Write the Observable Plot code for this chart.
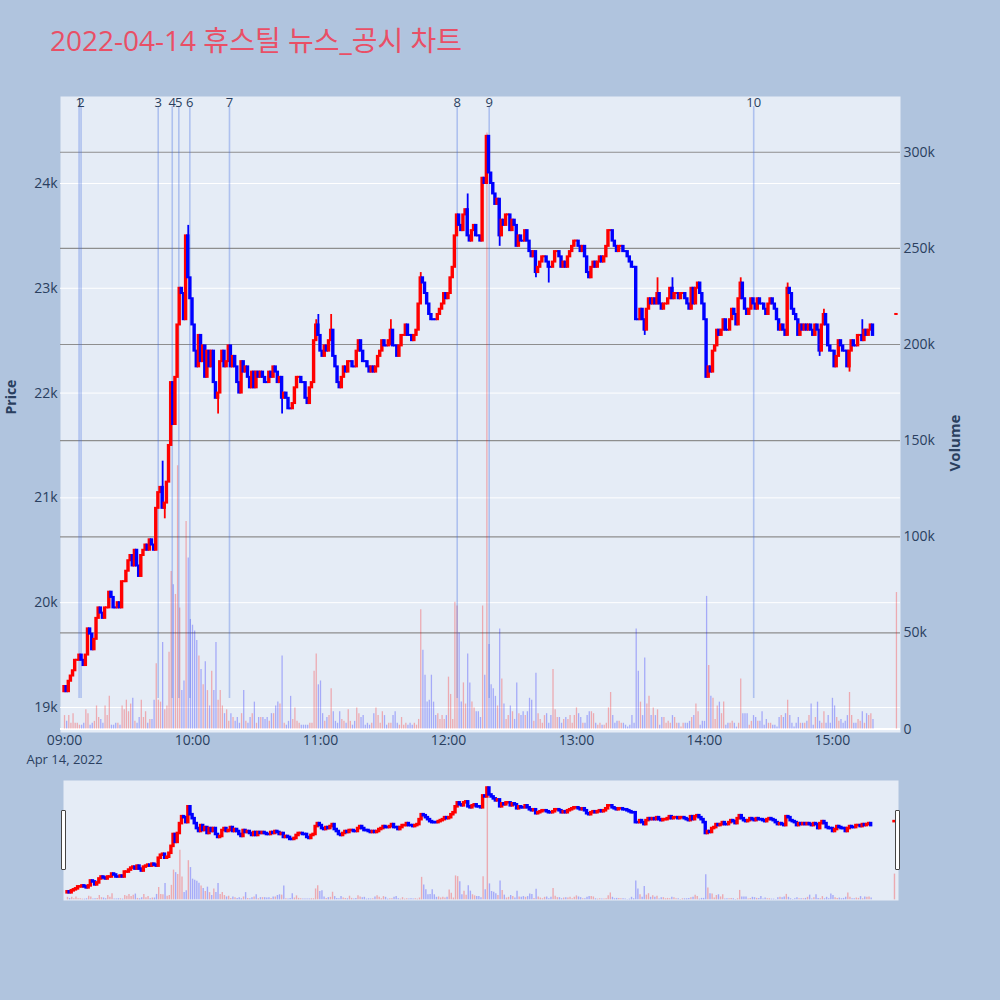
<!DOCTYPE html>
<html><head><meta charset="utf-8">
<script src="https://cdn.jsdelivr.net/npm/d3@7"></script>
<script src="https://cdn.jsdelivr.net/npm/@observablehq/plot@0.6"></script>
<style>
html,body{margin:0;padding:0;background:#B0C4DE;}
#chart{position:relative;width:1000px;height:1000px;background:#B0C4DE;font-family:"Open Sans","Noto Sans CJK KR",sans-serif;overflow:hidden;}
#title{position:absolute;left:50px;top:26px;font-size:28px;line-height:28px;color:#E94F66;white-space:nowrap;font-family:"Open Sans","Noto Sans CJK KR",sans-serif;}
.handle{position:absolute;width:3px;height:58px;background:#fff;border:1px solid #444;border-radius:1px;top:810px;}
</style></head>
<body>
<div id="chart"><div id="title">2022-04-14 휴스틸 뉴스_공시 차트</div></div>
<script>
// ---------------- data ----------------
const sessionDate = "2022-04-14";
const sessionStart = "09:00";
const dateLabel = "Apr 14, 2022";
const firstOpen = 19150;
// 1-minute closes from 09:00 to 15:19 (open = previous minute's close)
const closes = [
19200,19150,19250,19300,19350,19450,19450,19500,19450,19400,
19500,19750,19700,19550,19650,19850,19950,19900,19850,19950,
19950,20100,20050,19950,19950,20000,19950,20200,20200,20300,
20400,20450,20350,20500,20350,20250,20450,20500,20550,20500,
20600,20550,20500,20900,21050,21100,20900,20950,21150,21500,
22100,21700,22150,22650,23000,22950,22700,23500,23100,22900,
22650,22400,22250,22550,22300,22450,22150,22400,22250,22400,
22100,21950,22000,22300,22400,22250,22300,22450,22250,22350,
22250,22100,22000,22300,22200,22250,22150,22050,22200,22050,
22200,22150,22200,22150,22100,22100,22200,22150,22250,22200,
22100,22150,21950,22000,21950,21850,21850,21900,22050,22150,
22150,22100,22100,21950,21900,22050,22100,22500,22650,22550,
22400,22350,22450,22400,22500,22600,22350,22250,22100,22050,
22150,22250,22200,22300,22300,22250,22250,22400,22500,22400,
22300,22300,22250,22200,22250,22200,22250,22350,22400,22500,
22450,22450,22500,22600,22450,22450,22350,22450,22550,22550,
22650,22550,22550,22500,22550,22600,22850,23100,23050,22950,
22850,22750,22700,22700,22700,22750,22800,22850,22950,22900,
22950,23100,23200,23500,23700,23600,23550,23700,23750,23500,
23450,23550,23600,23500,23500,23450,24050,24000,24450,24100,
24000,23900,23800,23850,23500,23650,23600,23700,23700,23550,
23650,23600,23400,23500,23450,23450,23550,23450,23350,23300,
23350,23150,23200,23250,23300,23300,23250,23200,23200,23250,
23350,23350,23300,23200,23250,23200,23300,23350,23400,23450,
23450,23400,23350,23400,23300,23150,23100,23200,23250,23200,
23250,23300,23250,23300,23400,23550,23550,23450,23400,23350,
23400,23400,23350,23350,23300,23250,23200,23200,22700,22700,
22800,22700,22600,22800,22900,22850,22900,22850,22950,22850,
22800,22850,22850,22900,23000,22900,22950,22950,22900,22950,
22950,22900,22850,22800,23000,22850,23000,23050,22950,22850,
22700,22150,22250,22200,22400,22450,22600,22550,22600,22700,
22600,22600,22700,22800,22750,22650,22900,23050,22900,22800,
22750,22800,22900,22850,22800,22900,22850,22850,22800,22750,
22850,22900,22850,22800,22700,22600,22650,22600,22550,23000,
22950,22800,22750,22700,22550,22650,22600,22650,22600,22650,
22600,22550,22650,22600,22400,22650,22750,22650,22450,22400,
22400,22250,22350,22500,22450,22400,22400,22250,22400,22500,
22450,22450,22550,22550,22500,22600,22550,22600,22650,22550
];
// 1-minute volumes, thousands of shares
const volumesK = [
7,4,7,3,8,3,3,2,2,3,
10,8,2,3,4,12,6,5,3,12,
7,17,2,2,3,3,2,12,10,15,
9,13,16,4,3,6,15,6,9,3,
5,5,15,34,15,14,45,10,12,40,
82,75,70,137,63,20,25,108,89,57,
54,51,46,38,31,23,35,20,12,30,
20,45,15,20,12,8,10,4,8,6,
4,6,3,8,20,4,3,6,8,14,
3,6,6,6,5,6,4,8,8,12,
14,13,38,3,2,4,17,5,11,4,
3,2,2,2,2,3,3,30,39,23,
25,8,4,6,7,21,9,4,3,9,
5,4,3,10,4,2,4,11,8,6,
7,2,3,2,3,8,11,7,3,9,
7,2,3,3,7,9,3,2,6,2,
3,2,3,2,3,2,5,62,41,28,
14,15,28,14,7,8,5,7,5,7,
27,18,5,66,64,50,14,24,13,39,
24,14,11,9,9,6,64,28,310,44,
23,21,17,12,52,26,13,5,7,12,
9,5,24,8,7,9,7,9,16,15,
4,29,8,5,3,7,8,3,7,31,
10,6,6,3,5,6,5,7,3,7,
11,8,6,3,3,7,9,9,8,3,
2,3,2,2,3,11,19,7,3,4,
4,3,3,2,1,2,7,3,52,30,
14,7,37,13,17,7,11,7,10,2,
6,6,3,4,3,7,6,3,3,1,
3,3,3,4,6,7,13,9,2,4,
4,69,33,17,16,5,12,14,8,14,
2,3,3,4,3,1,3,26,8,8,
8,2,4,7,6,4,4,9,2,5,
3,3,2,2,1,6,7,6,8,15,
7,3,1,3,6,3,3,3,4,7,
13,2,6,14,4,3,9,3,7,3,
16,12,6,4,5,3,4,7,19,7,
3,3,5,4,9,3,8,7,8,5
];
// closing auction print
const auctionTime = "15:30";
const auctionOpen = 22750;
const auctionClose = 22750;
const auctionVolumeK = 71;
// notable wicks: [minute index, low, high]
const wicks = [
[46,20900,21350],[47,20800,20950],[58,23100,23600],[72,21800,22000],[102,21800,22150],
[118,22500,22700],[119,22550,22750],[125,22500,22750],[153,22450,22700],[167,22850,23150],
[189,23500,23900],[204,23400,23850],[221,23100,23350],[227,23050,23250],[272,22550,22700],
[278,22850,23100],[285,22900,23100],[317,22900,23100],[339,22550,23050],[354,22350,22600],
[356,22650,22800],[368,22200,22400],[374,22500,22700]
];
// news / disclosure markers
const newsLabels = ["1","2","3","4","5","6","7","8","9","10"];
const newsTimes = ["09:06:50","09:07:45","09:43:55","09:50:30","09:53:35","09:58:45","10:17:20","12:04:05","12:19:05","14:23:05"];
// axes
const hourTicks = ["09:00","10:00","11:00","12:00","13:00","14:00","15:00"];
const priceTicks = [19000,20000,21000,22000,23000,24000];
const volumeTicks = [0,50000,100000,150000,200000,250000,300000];
const xRange = ["08:58:07","15:31:54"];
const priceRange = [18761, 24830];
const volumeRange = [-1800, 329000];

// ---------------- build ----------------
const T = s => new Date(`${sessionDate}T${s.length === 5 ? s + ":00" : s}Z`);
const start = T(sessionStart);
const xDomain = xRange.map(T);
const UP = "#ff0000", DOWN = "#0000ff";
const n = Math.min(closes.length, volumesK.length);
const candles = [];
let lastUp = true;
for (let i = 0; i < n; i++) {
  const c = closes[i];
  const o = i === 0 ? firstOpen : closes[i - 1];
  const prev = i === 0 ? null : closes[i - 1];
  const up = c > o ? true : c < o ? false : (prev !== null && c !== prev ? c > prev : lastUp);
  lastUp = up;
  candles.push({time: d3.utcMinute.offset(start, i), open: o, close: c, volume: volumesK[i] * 1000, color: up ? UP : DOWN});
}
{
  const prev = closes[n - 1];
  const o = auctionOpen, c = auctionClose;
  const up = c > o ? true : c < o ? false : (c !== prev ? c > prev : lastUp);
  candles.push({time: T(auctionTime), open: o, close: c, volume: auctionVolumeK * 1000, color: up ? UP : DOWN});
}
const wickRows = wicks.map(([m, lo, hi]) => ({time: candles[m].time, low: lo, high: hi, color: candles[m].color}));
const news = newsTimes.map((t, i) => ({time: T(t), label: newsLabels[i]}));
const halfBody = 48e3;

const chart = document.getElementById("chart");
const baseStyle = {background: "transparent", fontFamily: "'Open Sans', 'Noto Sans CJK KR', sans-serif", fontSize: "14px", color: "#2a3f5f", overflow: "visible"};
function place(svg, top) {
  svg.style.position = "absolute";
  svg.style.left = "0px";
  svg.style.top = top + "px";
  svg.style.maxWidth = "none";
  svg.style.background = "transparent";
  chart.appendChild(svg);
}
const mainDims = {width: 1000, height: 760, marginTop: 96, marginBottom: 28, marginLeft: 60, marginRight: 100, style: baseStyle};
const xHidden = {type: "utc", domain: xDomain, axis: null};

// layer 1: background, price grid, axes
place(Plot.plot({
  ...mainDims,
  x: {type: "utc", domain: xDomain, ticks: hourTicks.map(T), tickFormat: d3.utcFormat("%H:%M"), tickSize: 0, tickPadding: 3, label: null},
  y: {domain: priceRange, ticks: priceTicks, tickFormat: d => d / 1000 + "k", tickSize: 0, tickPadding: 3, label: null},
  marks: [
    Plot.frame({fill: "#E5ECF6", stroke: "none"}),
    Plot.ruleY(priceTicks, {stroke: "#ffffff", strokeWidth: 1}),
    Plot.text([start], {x: d => d, text: () => dateLabel, frameAnchor: "bottom", dy: 31, fontSize: 13}),
    Plot.text(["Price"], {text: d => d, frameAnchor: "left", dx: -49, rotate: -90, fontWeight: "bold", fontSize: 14})
  ]
}), 0);

// layer 2: volume grid, bars, right axis
place(Plot.plot({
  ...mainDims,
  x: xHidden,
  y: {domain: volumeRange, axis: "right", ticks: volumeTicks, tickFormat: d => d === 0 ? "0" : d / 1000 + "k", tickSize: 0, tickPadding: 3, label: null},
  color: {type: "identity"},
  marks: [
    Plot.ruleY(volumeTicks.filter(d => d > 0), {stroke: "#8e8e8e", strokeWidth: 1.2}),
    Plot.ruleY([0], {stroke: "#ffffff", strokeWidth: 2}),
    Plot.ruleX(candles, {x: "time", y1: 0, y2: "volume", stroke: d => d.color, strokeOpacity: 0.28, strokeWidth: 1.3}),
    Plot.text(["Volume"], {text: d => d, frameAnchor: "right", dx: 55, rotate: -90, fontWeight: "bold", fontSize: 15})
  ]
}), 0);

// layer 3: news lines and candles
place(Plot.plot({
  ...mainDims,
  x: xHidden,
  y: {domain: priceRange, axis: null},
  color: {type: "identity"},
  marks: [
    Plot.ruleX(news, {x: "time", stroke: "#4169e1", strokeOpacity: 0.33, strokeWidth: 1.6, insetTop: 10, insetBottom: 34}),
    Plot.text(news, {x: "time", text: "label", frameAnchor: "top", dy: 1, fontSize: 13, fill: "#2a3f5f"}),
    Plot.ruleX(wickRows, {x: "time", y1: "low", y2: "high", stroke: d => d.color, strokeWidth: 1.8}),
    Plot.rect(candles, {x1: d => new Date(+d.time - halfBody), x2: d => new Date(+d.time + halfBody), y1: "open", y2: "close", fill: d => d.color, insetTop: -1, insetBottom: -1})
  ]
}), 0);

// range slider
const sliderDims = {width: 1000, height: 130, marginTop: 10, marginBottom: 0, marginLeft: 63, marginRight: 102, style: baseStyle};
place(Plot.plot({
  ...sliderDims,
  x: xHidden,
  y: {domain: volumeRange, axis: null},
  color: {type: "identity"},
  marks: [
    Plot.frame({fill: "#E5ECF6", stroke: "none"}),
    Plot.ruleX(candles, {x: "time", y1: 0, y2: "volume", stroke: d => d.color, strokeOpacity: 0.28, strokeWidth: 1.4})
  ]
}), 770);
place(Plot.plot({
  ...sliderDims,
  x: xHidden,
  y: {domain: priceRange, axis: null},
  color: {type: "identity"},
  marks: [
    Plot.rect(candles, {x1: d => new Date(+d.time - halfBody), x2: d => new Date(+d.time + halfBody), y1: "open", y2: "close", fill: d => d.color, insetTop: -1.3, insetBottom: -1.3})
  ]
}), 770);

// slider grabbers
for (const left of [61, 895]) {
  const h = document.createElement("div");
  h.className = "handle";
  h.style.left = left + "px";
  chart.appendChild(h);
}
</script>
</body></html>
